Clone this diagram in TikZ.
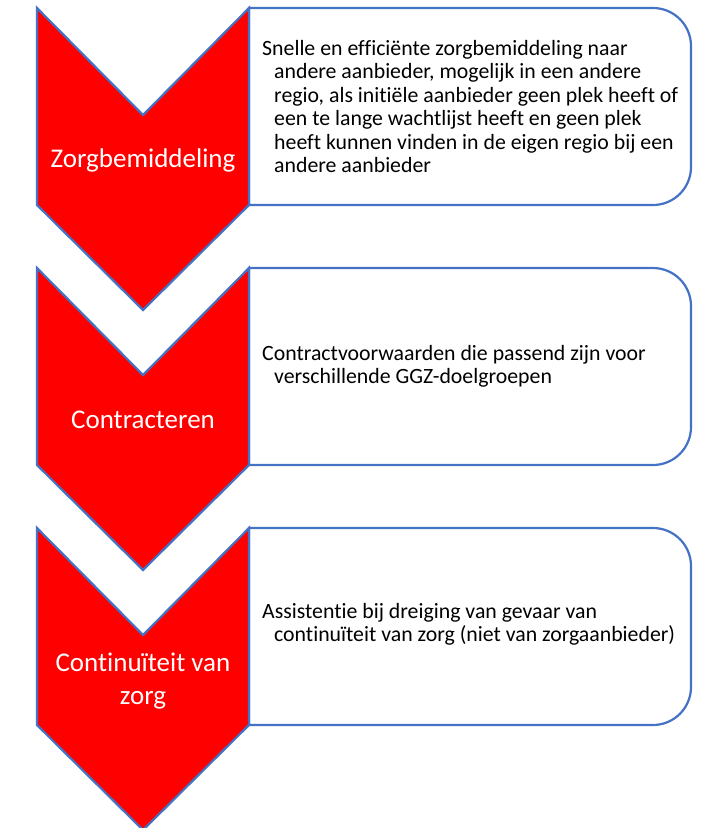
\documentclass[tikz,border=0pt]{standalone}
\usepackage{fontspec}
\setmainfont[Ligatures=NoCommon]{Carlito}
\definecolor{chevred}{HTML}{FF0000}
\definecolor{edgeblue}{HTML}{4472C4}
\begin{document}
\begin{tikzpicture}[x=1pt,y=-1pt,
  chev/.style={fill=chevred,draw=edgeblue,line width=2.2pt,line join=miter},
  infobox/.style={draw=edgeblue,line width=2.2pt,fill=white},
  lab/.style={text=white,font=\fontsize{27}{32.5}\selectfont,align=center,inner sep=0pt},
  desc/.style={text=black,font=\fontsize{21.8}{23.4}\selectfont,align=left,anchor=west,inner sep=0pt}]
\useasboundingbox (0,0) rectangle (703,828);
\foreach \t in {0,260,520}{
  \begin{scope}[yshift=-\t pt]
  \draw[infobox] (249,8) -- (653,8) .. controls (674,8) and (691,25) .. (691,46)
     -- (691,167) .. controls (691,188) and (674,205) .. (653,205) -- (249,205) -- cycle;
  \draw[chev] (37,8) -- (143,115) -- (249,8) -- (249,205) -- (143,310) -- (37,205) -- cycle;
  \end{scope}
}
\node[lab] (l1) at (143,160) {Zorgbemiddeling};
\node[lab] (l2) at (143,420) {Contracteren};
\node[lab] (l3) at (143,681) {Continuïteit van\\zorg};
\node[desc] (d1) at (262,106.5) {Snelle en efficiënte zorgbemiddeling naar\\
\hspace*{12pt}andere aanbieder, mogelijk in een andere\\
\hspace*{12pt}regio, als initiële aanbieder geen plek heeft of\\
\hspace*{12pt}een te lange wachtlijst heeft en geen plek\\
\hspace*{12pt}heeft kunnen vinden in de eigen regio bij een\\
\hspace*{12pt}andere aanbieder};
\node[desc] (d2) at (262,366.5) {Contractvoorwaarden die passend zijn voor\\
\hspace*{12pt}verschillende GGZ-doelgroepen};
\node[desc] (d3) at (262,624.5) {Assistentie bij dreiging van gevaar van\\
\hspace*{12pt}continuïteit van zorg (niet van zorgaanbieder)};
\end{tikzpicture}
\end{document}
